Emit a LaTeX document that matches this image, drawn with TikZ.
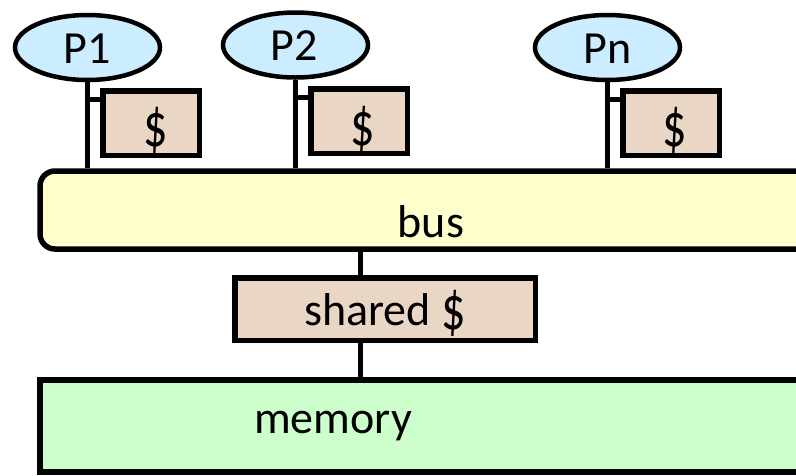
\documentclass[tikz,border=0pt]{standalone}
\usepackage{fontspec}
\setmainfont{Carlito}
\usetikzlibrary{shapes.geometric,calc}
\definecolor{procblue}{HTML}{CCECFF}
\definecolor{cachetan}{HTML}{EAD6C4}
\definecolor{busyellow}{HTML}{FFFFCC}
\definecolor{memgreen}{HTML}{CCFFCC}
\newcommand{\bigdollar}{\raisebox{-0.1em}{\scalebox{1.05}[1.35]{\$}}}
\tikzset{
  proc/.style={ellipse, draw, line width=4.5pt, fill=procblue, minimum width=145pt, minimum height=65pt, inner sep=0pt},
  cachebox/.style={rectangle, draw, line width=5.5pt, fill=cachetan, minimum width=96.5pt, minimum height=64.5pt, inner sep=0pt},
  lbl/.style={anchor=base, inner sep=0pt, font=\fontsize{46}{50}\selectfont},
  wire/.style={line width=5pt},
}
\begin{document}
\begin{tikzpicture}[x=1pt,y=-1pt]
\useasboundingbox (0,0) rectangle (796,475);
\clip (0,0) rectangle (796,475);
% bus and memory
\node[rectangle, draw, line width=5.5pt, fill=busyellow, rounded corners=15pt, minimum width=810pt, minimum height=78pt, inner sep=0pt] (bus) at (445,210) {};
\node[rectangle, draw, line width=5.5pt, fill=memgreen, minimum width=810pt, minimum height=92pt, inner sep=0pt] (mem) at (445,426) {};
% processors
\node[proc] (p1) at (87.5,47.5) {};
\node[proc] (p2) at (295.5,45) {};
\node[proc] (pn) at (607.5,47.5) {};
% private caches
\node[cachebox] (c1) at (151,123) {};
\node[cachebox] (c2) at (359,121) {};
\node[cachebox] (cn) at (671,123) {};
% shared cache
\node[rectangle, draw, line width=5.5pt, fill=cachetan, minimum width=300.5pt, minimum height=62.5pt, inner sep=0pt] (sh) at (385,309) {};
% stub points
\coordinate (s1) at ($(c1.north west)!0.16!(c1.south west)$);
\coordinate (s2) at ($(c2.north west)!0.16!(c2.south west)$);
\coordinate (sn) at ($(cn.north west)!0.16!(cn.south west)$);
\coordinate (t) at (360,0);
% connectors
\draw[wire] (p1.south) -- (p1.south |- bus.north);
\draw[wire] (p2.south) -- (p2.south |- bus.north);
\draw[wire] (pn.south) -- (pn.south |- bus.north);
\draw[wire] (p1.south |- s1) -- (s1);
\draw[wire] (p2.south |- s2) -- (s2);
\draw[wire] (pn.south |- sn) -- (sn);
\draw[wire] (t |- bus.south) -- (t |- sh.north);
\draw[wire] (t |- sh.south) -- (t |- mem.north);
% redraw boxes on top of wire ends
\node[cachebox] at (c1) {};
\node[cachebox] at (c2) {};
\node[cachebox] at (cn) {};
% labels
\node[lbl] (l1) at (87.5,63) {P1};
\node[lbl] (l2) at (294.5,60) {P2};
\node[lbl] (ln) at (607.5,63) {Pn};
\node[lbl] (d1) at (156,142) {\bigdollar};
\node[lbl] (d2) at (363,141) {\bigdollar};
\node[lbl] (dn) at (675,142) {\bigdollar};
\node[lbl] (lb) at (431,237) {bus};
\node[lbl] (ls) at (385,325) {shared \bigdollar};
\node[lbl] (lm) at (333,433) {memory};
\end{tikzpicture}
\end{document}
